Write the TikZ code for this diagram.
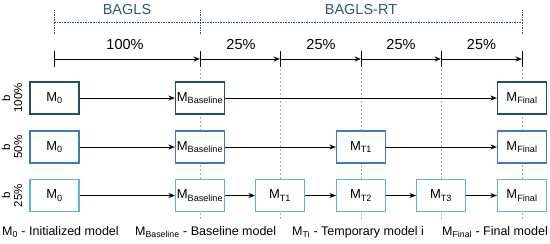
\documentclass[tikz,border=0pt]{standalone}
\usepackage{fontspec}
\setmainfont{Liberation Sans}
\usetikzlibrary{arrows.meta}
\definecolor{cA}{HTML}{1F4E6B}
\definecolor{cB}{HTML}{3C7AB8}
\definecolor{cC}{HTML}{5DB0E8}
\definecolor{cT}{HTML}{2A5A80}
\definecolor{cG}{HTML}{AAAAAA}
\begin{document}
\begin{tikzpicture}[x=1pt,y=-1pt,
  font=\fontsize{13}{15}\selectfont,
  mbox/.style={draw,line width=1.2pt,fill=white,minimum width=49pt,minimum height=32pt,inner sep=0pt},
  rowA/.style={mbox,draw=cA},
  rowB/.style={mbox,draw=cB},
  rowC/.style={mbox,draw=cC},
  conn/.style={line width=1pt,-{Stealth[length=6.5pt,width=5pt]}},
  guide/.style={cG,line width=0.7pt,dash pattern=on 2pt off 2pt},
  span/.style={cT,line width=1pt,dash pattern=on 1.6pt off 1pt},
  rowlab/.style={rotate=90,align=center,font=\fontsize{11.5}{12}\selectfont,inner sep=0pt},
  lbl/.style={inner sep=0pt,font=\fontsize{12.5}{14}\selectfont},
  head/.style={inner sep=0pt,font=\fontsize{14.5}{16}\selectfont}
]
\useasboundingbox (0,0) rectangle (550,244);
% top span markers
\coordinate (s0) at (54,22);
\coordinate (s1) at (200,22);
\coordinate (s2) at (522,22);
\draw[span] (s0) -- (s2);
\foreach \p in {s0,s1,s2} \draw[span] ([yshift=-12pt]\p) -- ([yshift=12pt]\p);
\node[head,text=cT] (bagls) at (127,10) {BAGLS};
\node[head,text=cT] (baglsrt) at (361,10) {BAGLS-RT};
% timeline
\coordinate (t0) at (54,59);
\coordinate (t1) at (200,59);
\coordinate (t2) at (280,59);
\coordinate (t3) at (361,59);
\coordinate (t4) at (441,59);
\coordinate (t5) at (522,59);
\foreach \p in {t0,t1,t2,t3,t4,t5} \draw[line width=1pt] ([yshift=-8pt]\p) -- ([yshift=8pt]\p);
\draw[conn] (t0) -- (t1);
\draw[conn] (t1) -- (t2);
\draw[conn] (t2) -- (t3);
\draw[conn] (t3) -- (t4);
\draw[conn] (t4) -- (t5);
\node[head] (p0) at (125,45) {100\%};
\node[head] (p1) at (241,45) {25\%};
\node[head] (p2) at (321,45) {25\%};
\node[head] (p3) at (401,45) {25\%};
\node[head] (p4) at (481.5,45) {25\%};
% guides
\foreach \x in {200,280,361,441,522} \draw[guide] (\x,69) -- (\x,221);
% row labels
\node[rowlab] (rl1) at (12,98) {b\\100\%};
\node[rowlab] (rl2) at (12,147) {b\\50\%};
\node[rowlab] (rl3) at (12,195.5) {b\\25\%};
% row 1
\node[rowA] (a0) at (54.5,98) {M\textsubscript{0}};
\node[rowA] (ab) at (200,98) {M\textsubscript{Baseline}};
\node[rowA] (af) at (522,98) {M\textsubscript{Final}};
\draw[conn] (a0) -- (ab);
\draw[conn] (ab) -- (af);
% row 2
\node[rowB] (b0) at (54.5,147) {M\textsubscript{0}};
\node[rowB] (bb) at (200,147) {M\textsubscript{Baseline}};
\node[rowB] (b1) at (361,147) {M\textsubscript{T1}};
\node[rowB] (bf) at (522,147) {M\textsubscript{Final}};
\draw[conn] (b0) -- (bb);
\draw[conn] (bb) -- (b1);
\draw[conn] (b1) -- (bf);
% row 3
\node[rowC] (c0) at (54.5,195.5) {M\textsubscript{0}};
\node[rowC] (cb) at (200,195.5) {M\textsubscript{Baseline}};
\node[rowC] (c1) at (280,195.5) {M\textsubscript{T1}};
\node[rowC] (c2) at (361,195.5) {M\textsubscript{T2}};
\node[rowC] (c3) at (441,195.5) {M\textsubscript{T3}};
\node[rowC] (cf) at (522,195.5) {M\textsubscript{Final}};
\draw[conn] (c0) -- (cb);
\draw[conn] (cb) -- (c1);
\draw[conn] (c1) -- (c2);
\draw[conn] (c2) -- (c3);
\draw[conn] (c3) -- (cf);
% legend
\node[lbl,anchor=west] (l1) at (2,232) {M\textsubscript{0} - Initialized model};
\node[lbl,anchor=west] (l2) at (135,232) {M\textsubscript{Baseline} - Baseline model};
\node[lbl,anchor=west] (l3) at (292,232) {M\textsubscript{Ti} - Temporary model i};
\node[lbl,anchor=west] (l4) at (442,232) {M\textsubscript{Final} - Final model};
\end{tikzpicture}
\end{document}
